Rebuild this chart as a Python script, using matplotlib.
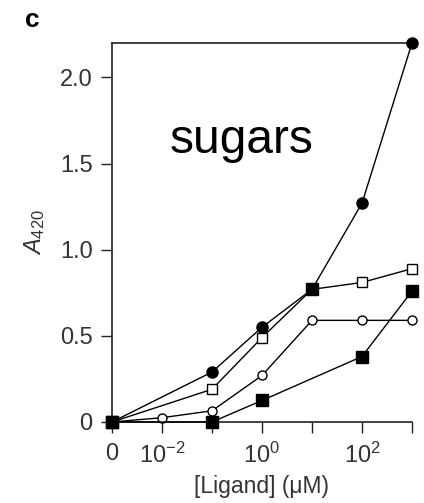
import numpy as np
import matplotlib
matplotlib.use("Agg")
import matplotlib.pyplot as plt

plt.rcParams['font.family'] = ['Liberation Sans', 'DejaVu Sans']
plt.rcParams['mathtext.fontset'] = 'custom'
plt.rcParams['mathtext.rm'] = 'Liberation Sans'
plt.rcParams['mathtext.it'] = 'Liberation Sans:italic'
plt.rcParams['mathtext.bf'] = 'Liberation Sans:bold'

# Ligand concentrations (uM) and A420 responses for each sugar series
conc_filled_circle = [0, 0.1, 1, 10, 100, 1000]
a420_filled_circle = [0, 0.29, 0.55, 0.77, 1.27, 2.2]

conc_open_square = [0, 0.1, 1, 10, 100, 1000]
a420_open_square = [0, 0.19, 0.49, 0.77, 0.81, 0.89]

conc_open_circle = [0, 0.01, 0.1, 1, 10, 100, 1000]
a420_open_circle = [0, 0.025, 0.065, 0.27, 0.59, 0.59, 0.59]

conc_filled_square = [0, 0.1, 1, 100, 1000]
a420_filled_square = [0, 0, 0.125, 0.38, 0.76]

x_ticks = [0, 1e-2, 1e-1, 1, 10, 100, 1000]
x_tick_labels = ['0', r'$10^{-2}$', '', r'$10^{0}$', '', r'$10^{2}$', '']
y_ticks = [0, 0.5, 1.0, 1.5, 2.0]
y_tick_labels = ['0', '0.5', '1.0', '1.5', '2.0']


def fwd(x):
    x = np.asarray(x, dtype=float)
    return np.log10(np.maximum(x, 1e-3))


def inv(y):
    return 10.0 ** np.asarray(y, dtype=float)


fig = plt.figure(figsize=(4.24, 5.03), dpi=100)
ax = fig.add_axes([112 / 424, 1 - 422 / 503, 300 / 424, 379 / 503])
ax.set_xscale('function', functions=(fwd, inv))
ax.set_xlim(0, 1000)
ax.set_ylim(0, 2.2)

lw = 1.0
ax.plot(conc_open_circle, a420_open_circle, color='black', lw=lw, marker='o',
        ms=6.5, mfc='white', mec='black', mew=1.0, clip_on=False, zorder=3)
ax.plot(conc_filled_square, a420_filled_square, color='black', lw=lw, marker='s',
        ms=8.5, mfc='black', mec='black', clip_on=False, zorder=4)
ax.plot(conc_open_square, a420_open_square, color='black', lw=lw, marker='s',
        ms=6.5, mfc='white', mec='black', mew=1.0, clip_on=False, zorder=3,
        markevery=[0, 1, 2, 4, 5])
ax.plot(conc_filled_circle, a420_filled_circle, color='black', lw=lw, marker='o',
        ms=8, mfc='black', mec='black', clip_on=False, zorder=3)
# shared point at 10 uM drawn as a filled square
ax.plot(conc_open_square[3:4], a420_open_square[3:4], ls='none', marker='s',
        ms=8.5, mfc='black', mec='black', clip_on=False, zorder=5)
# filled square at zero concentration on top
ax.plot(conc_filled_square[:1], a420_filled_square[:1], ls='none', marker='s',
        ms=8.5, mfc='black', mec='black', clip_on=False, zorder=6)

ax.spines['right'].set_visible(False)
for s in ['left', 'bottom', 'top']:
    ax.spines[s].set_linewidth(1.2)
    ax.spines[s].set_color('#222222')

ax.set_xticks(x_ticks)
ax.set_xticklabels(x_tick_labels)
ax.xaxis.set_minor_locator(matplotlib.ticker.NullLocator())
ax.set_yticks(y_ticks)
ax.set_yticklabels(y_tick_labels)
ax.tick_params(axis='both', direction='out', length=8, width=1.0,
               color='#222222', labelsize=17, labelcolor='#333333')
ax.tick_params(axis='x', pad=7)
ax.tick_params(axis='y', pad=6)

ax.set_xlabel('[Ligand] (μM)', fontsize=16.5, color='#333333', labelpad=5)
ax.set_ylabel(r'$\mathit{A}_{\mathrm{420}}$', fontsize=17, color='#333333', labelpad=9)

ax.text(0.193, 0.71, 'sugars', transform=ax.transAxes, fontsize=34.5,
        color='black', ha='left', va='baseline')
fig.text(25 / 424, 1 - 27 / 503, 'c', fontsize=19, fontweight='bold',
         color='black', ha='left', va='baseline')

fig.savefig('out.png', dpi=100, facecolor='white')
